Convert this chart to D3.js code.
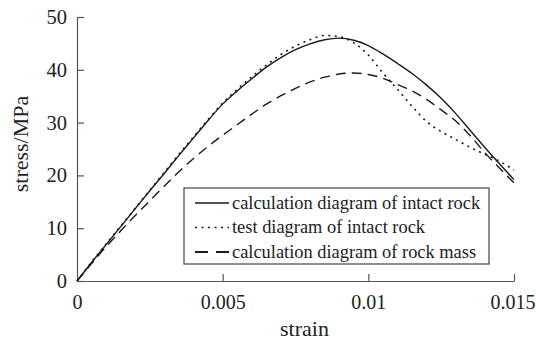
<!DOCTYPE html>
<html lang="en">
<head>
<meta charset="utf-8">
<title>stress-strain curves</title>
<script src="https://cdn.jsdelivr.net/npm/d3@7"></script>
<style>
body { margin: 0; background: #fff; }
svg text { font-family: "Liberation Serif", serif; }
.axis path, .axis line { stroke: #555; stroke-width: 1.2; }
.curve { fill: none; stroke: #1a1a1a; }
</style>
</head>
<body>
<script>
var serif = "Liberation Serif";

// strain values (shared by all three curves)
var strain = [0, 0.0005, 0.001, 0.0015, 0.002, 0.0025, 0.003, 0.0035, 0.004, 0.0045,
  0.005, 0.0055, 0.006, 0.0065, 0.007, 0.0075, 0.008, 0.0085, 0.009, 0.0095,
  0.01, 0.0105, 0.011, 0.0115, 0.012, 0.0125, 0.013, 0.0135, 0.014, 0.0145, 0.015];

// stress (MPa)
var calcIntact = [0, 3.5, 6.9, 10.3, 13.7, 17.1, 20.4, 23.8, 27.1, 30.4,
  33.5, 36.0, 38.3, 40.5, 42.3, 43.8, 44.9, 45.7, 46.0, 45.6,
  44.6, 43.0, 41.2, 39.3, 37.1, 34.6, 31.7, 28.5, 25.3, 22.2, 19.2];
var testIntact = [0, 3.6, 7.0, 10.4, 13.8, 17.2, 20.6, 24.0, 27.3, 30.6,
  33.7, 36.3, 38.7, 40.9, 42.9, 44.5, 45.7, 46.5, 46.3, 45.1,
  42.8, 39.4, 36.3, 33.1, 30.2, 28.3, 26.8, 25.3, 24.0, 22.7, 21.0];
var calcMass = [0, 3.3, 6.5, 9.5, 12.4, 15.2, 18.0, 20.7, 23.2, 25.5,
  27.6, 29.6, 31.6, 33.5, 35.1, 36.5, 37.7, 38.6, 39.2, 39.4,
  39.1, 38.4, 37.2, 36.0, 34.4, 32.4, 30.3, 27.5, 24.3, 21.4, 18.6];

var seriesNames = ["calculation diagram of intact rock", "test diagram of intact rock", "calculation diagram of rock mass"];
var xTicks = [0, 0.005, 0.01, 0.015];
var xTickLabels = ["0", "0.005", "0.01", "0.015"];
var yTicks = [0, 10, 20, 30, 40, 50];

var W = 536, H = 341;
var margin = { top: 17, right: 22, bottom: 60, left: 77 };

var svg = d3.select("body").append("svg")
  .attr("width", W)
  .attr("height", H)
  .attr("font-family", serif);

var x = d3.scaleLinear().domain([0, 0.015]).range([margin.left, W - margin.right]);
var y = d3.scaleLinear().domain([0, 50]).range([H - margin.bottom, margin.top]);

// axes, ticks pointing inward
var xAxis = d3.axisBottom(x)
  .tickValues(xTicks)
  .tickFormat(function(d, i) { return xTickLabels[i]; })
  .tickSize(-7)
  .tickSizeOuter(0)
  .tickPadding(14);

var yAxis = d3.axisLeft(y)
  .tickValues(yTicks)
  .tickSize(-7)
  .tickSizeOuter(0)
  .tickPadding(10);

var gx = svg.append("g")
  .attr("class", "axis")
  .attr("transform", "translate(0," + y(0) + ")")
  .call(xAxis)
  .attr("font-family", serif)
  .attr("font-size", 20);
gx.selectAll("text").attr("fill", "#222");
gx.selectAll(".tick:last-of-type text").attr("dx", -1.5); // keep the last label inside
gx.select(".tick line").remove(); // no tick at origin

var gy = svg.append("g")
  .attr("class", "axis")
  .attr("transform", "translate(" + x(0) + ",0)")
  .call(yAxis)
  .attr("font-family", serif)
  .attr("font-size", 20.5);
gy.selectAll("text").attr("fill", "#222");

// axis titles
svg.append("text")
  .attr("x", (x(0) + x(0.015)) / 2 + 9)
  .attr("y", 336)
  .attr("text-anchor", "middle")
  .attr("fill", "#222")
  .attr("font-size", 22)
  .text("strain");

svg.append("text")
  .attr("transform", "translate(28,144) rotate(-90)")
  .attr("text-anchor", "middle")
  .attr("fill", "#222")
  .attr("font-size", 22)
  .text("stress/MPa");

// curves
var styles = [
  { width: 1.4, dash: null },
  { width: 1.6, dash: "2,4.5" },
  { width: 1.4, dash: "10,6" }
];
var allSeries = [calcIntact, testIntact, calcMass];

var line = d3.line()
  .x(function(d, i) { return x(strain[i]); })
  .y(function(d) { return y(d); })
  .curve(d3.curveMonotoneX);

svg.selectAll(".curve")
  .data(allSeries)
  .enter()
  .append("path")
  .attr("class", "curve")
  .attr("d", line)
  .attr("stroke-width", function(d, i) { return styles[i].width; })
  .attr("stroke-dasharray", function(d, i) { return styles[i].dash; });

// legend
var legend = svg.append("g").attr("transform", "translate(184,188)");
legend.append("rect")
  .attr("width", 305)
  .attr("height", 76)
  .attr("fill", "#fff")
  .attr("stroke", "#444")
  .attr("stroke-width", 1.2);

var rows = legend.selectAll(".row")
  .data(seriesNames)
  .enter()
  .append("g")
  .attr("class", "row")
  .attr("transform", function(d, i) { return "translate(0," + (15 + i * 24.5) + ")"; });

rows.append("line")
  .attr("x1", 11)
  .attr("x2", 45)
  .attr("stroke", "#1a1a1a")
  .attr("stroke-width", function(d, i) { return i === 2 ? 2 : styles[i].width; })
  .attr("stroke-dasharray", function(d, i) { return i === 2 ? "13,8" : styles[i].dash; });

rows.append("text")
  .attr("x", 48)
  .attr("dy", "0.32em")
  .attr("fill", "#222")
  .attr("font-size", 18.4)
  .text(function(d) { return d; });
</script>
</body>
</html>
